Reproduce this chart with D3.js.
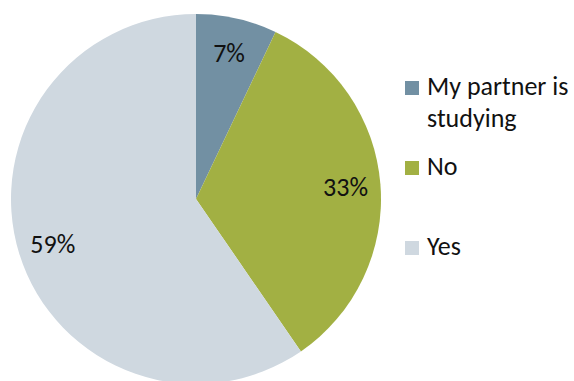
<!DOCTYPE html>
<html>
<head>
<meta charset="utf-8">
<script src="https://cdn.jsdelivr.net/npm/d3@7"></script>
<style>
  html, body { margin: 0; padding: 0; background: #fff; }
  svg text { font-family: Carlito, Calibri, Lato, "Open Sans", sans-serif; fill: #111; }
</style>
</head>
<body>
<svg id="chart" width="574" height="381"></svg>
<script>
// Answers to the survey question, in drawing order (clockwise from 12 o'clock)
const categories = ["My partner is studying", "No", "Yes"];
const values = [7, 33, 59];
const valueLabels = ["7%", "33%", "59%"];
const colors = ["#7290A3", "#A2B043", "#CFD8E0"];
// Legend text, broken across lines as shown
const legendLines = [["My partner is", "studying"], ["No"], ["Yes"]];

const svg = d3.select("#chart");
const cx = 196, cy = 199, radius = 185;
const fontSize = 26;

const pie = d3.pie().sort(null).value(d => d)(values);
const arc = d3.arc().innerRadius(0).outerRadius(radius);
const labelArc = d3.arc().innerRadius(150).outerRadius(150);

const g = svg.append("g").attr("transform", `translate(${cx},${cy})`);

g.selectAll("path.slice")
  .data(pie)
  .join("path")
  .attr("class", "slice")
  .attr("d", arc)
  .attr("fill", (d, i) => colors[i]);

g.selectAll("text.value")
  .data(pie)
  .join("text")
  .attr("class", "value")
  .attr("transform", d => `translate(${labelArc.centroid(d)})`)
  .attr("text-anchor", "middle")
  .attr("dy", "0.35em")
  .attr("font-size", fontSize)
  .text((d, i) => valueLabels[i]);

// Legend
const legendY = [95, 175, 255];
const legend = svg.append("g");
categories.forEach((c, i) => {
  legend.append("rect")
    .attr("x", 405).attr("y", legendY[i] - 14)
    .attr("width", 14).attr("height", 14)
    .attr("fill", colors[i]);
  const t = legend.append("text")
    .attr("x", 427).attr("y", legendY[i])
    .attr("font-size", fontSize);
  legendLines[i].forEach((line, j) => {
    t.append("tspan").attr("x", 427).attr("dy", j === 0 ? 0 : 32).text(line);
  });
});
</script>
</body>
</html>
